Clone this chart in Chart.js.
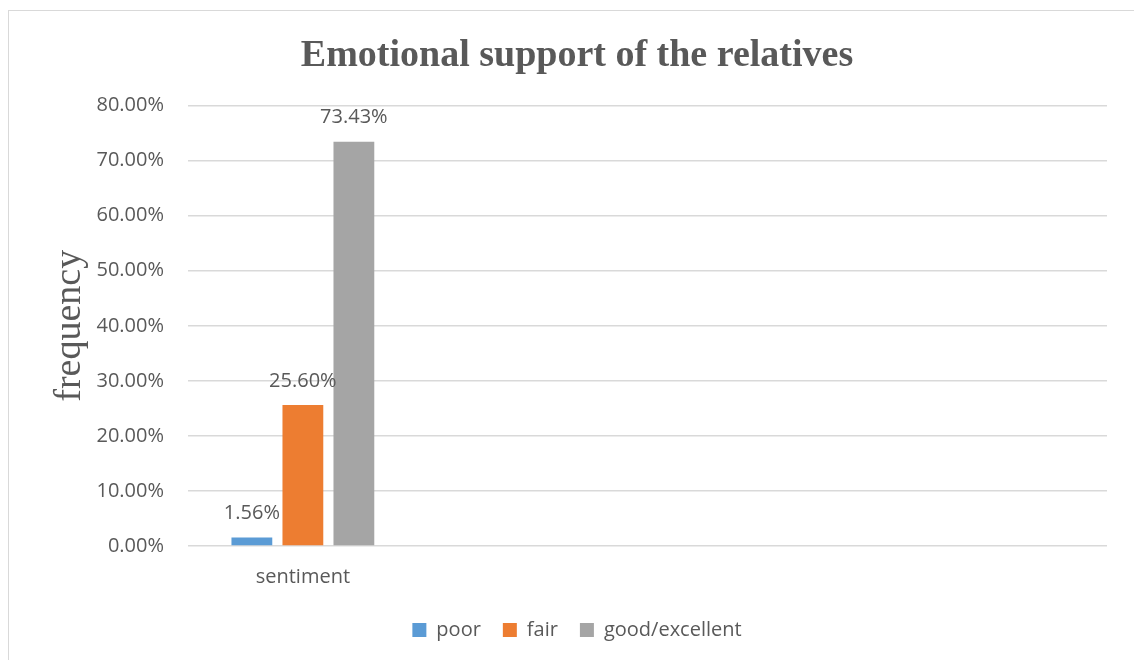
<!DOCTYPE html>
<html>
<head>
<meta charset="utf-8">
<script src="https://cdn.jsdelivr.net/npm/chart.js@4/dist/chart.umd.min.js"></script>
<style>
    html, body { margin: 0; padding: 0; background: #fff; overflow: hidden; }
    #frame {
        position: absolute; left: 8px; top: 10px; width: 1140px; height: 660px;
        border: 1.5px solid #d9d9d9; box-sizing: border-box;
    }
    #wrap { position: absolute; left: 0; top: 0; width: 1134px; height: 660px; }
</style>
</head>
<body>
<div id="frame"></div>
<div id="wrap"><canvas id="chart1"></canvas></div>
<script>
// datos del gráfico
var categorias = ['sentiment', '', '', ''];
var poor = [1.56, null, null, null];
var fair = [25.60, null, null, null];
var goodExcellent = [73.43, null, null, null];
var ticksY = [0, 10, 20, 30, 40, 50, 60, 70, 80];

var gris = '#595959';
var fuente = "'Open Sans', sans-serif";

// etiquetas de valor encima de cada barra
var etiquetas = {
    id: 'etiquetas',
    afterDatasetsDraw: function(chart) {
        var ctx = chart.ctx;
        ctx.save();
        ctx.font = '20px ' + fuente;
        ctx.fillStyle = gris;
        ctx.textAlign = 'center';
        ctx.textBaseline = 'middle';
        chart.data.datasets.forEach(function(ds, i) {
            chart.getDatasetMeta(i).data.forEach(function(bar, j) {
                var v = ds.data[j];
                if (v === null) return;
                ctx.fillText(v.toFixed(2) + '%', bar.x, bar.y - 24);
            });
        });
        ctx.restore();
    }
};

document.addEventListener('DOMContentLoaded', function() {
    var ctx1 = document.getElementById('chart1').getContext('2d');
    var chart1 = new Chart(ctx1, {
        type: 'bar',
        data: {
            labels: categorias,
            datasets: [{
                label: 'poor',
                data: poor,
                backgroundColor: '#5b9bd5'
            }, {
                label: 'fair',
                data: fair,
                backgroundColor: '#ed7d31'
            }, {
                label: 'good/excellent',
                data: goodExcellent,
                backgroundColor: '#a5a5a5'
            }]
        },
        options: {
            responsive: true,
            maintainAspectRatio: false,
            animation: false,
            categoryPercentage: 0.666,
            barPercentage: 0.8,
            layout: { padding: { left: 47, right: 27, top: 0, bottom: 10 } },
            plugins: {
                title: {
                    display: true,
                    text: 'Emotional support of the relatives',
                    color: gris,
                    font: { family: "'Liberation Serif', 'Times New Roman', serif", size: 38, weight: 'bold' },
                    padding: { top: 33, bottom: 27 }
                },
                legend: {
                    position: 'bottom',
                    labels: {
                        color: gris,
                        font: { family: fuente, size: 20 },
                        boxWidth: 14,
                        boxHeight: 14,
                        padding: 22
                    }
                },
                tooltip: { enabled: false }
            },
            scales: {
                x: {
                    afterFit: function(scale) { scale.height = 52; },
                    grid: { display: false },
                    border: { display: false },
                    ticks: { color: gris, font: { family: fuente, size: 20 }, padding: 11 }
                },
                y: {
                    min: 0,
                    max: 80,
                    afterFit: function(scale) { scale.width = 141; },
                    afterBuildTicks: function(scale) {
                        scale.ticks = ticksY.map(function(v) { return { value: v }; });
                    },
                    grid: { color: '#d9d9d9', lineWidth: 1.5, drawTicks: false },
                    border: { display: false },
                    ticks: {
                        color: gris,
                        font: { family: fuente, size: 20 },
                        padding: 24,
                        callback: function(v) { return v.toFixed(2) + '%'; }
                    },
                    title: {
                        display: true,
                        text: 'frequency',
                        color: gris,
                        font: { family: "'Liberation Serif', 'Times New Roman', serif", size: 38 },
                        padding: { top: 0, bottom: 0 }
                    }
                }
            }
        },
        plugins: [etiquetas]
    });
});
</script>
</body>
</html>
